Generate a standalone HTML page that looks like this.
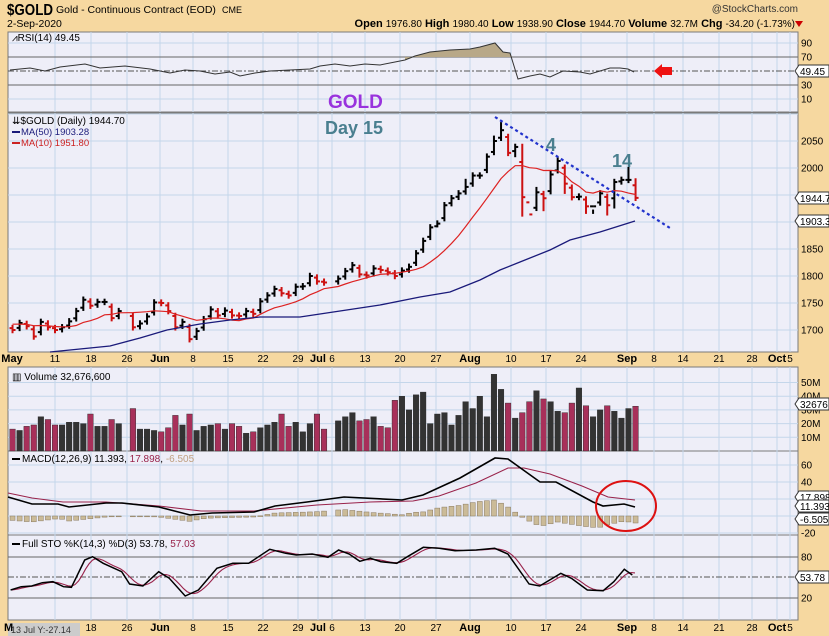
<!DOCTYPE html>
<html><head><meta charset="utf-8"><style>
html,body{margin:0;padding:0;background:#f6d8a0;}
svg{display:block;font-family:"Liberation Sans",sans-serif;}
</style></head><body>
<svg id="s" width="829" height="636" viewBox="0 0 829 636" xmlns="http://www.w3.org/2000/svg">
<rect x="0" y="0" width="829" height="636" fill="#f6d8a0"/>
<text x="7" y="15" font-size="16" font-weight="bold" fill="#000" textLength="46" lengthAdjust="spacingAndGlyphs">$GOLD</text>
<text x="56" y="13" font-size="10.5" fill="#000">Gold - Continuous Contract (EOD)</text>
<text x="222" y="13" font-size="9" fill="#000">CME</text>
<text x="798" y="12" font-size="10" fill="#333" text-anchor="end">@StockCharts.com</text>
<text x="7" y="27" font-size="10.5" fill="#000">2-Sep-2020</text>
<text x="795" y="27" font-size="11" fill="#000" text-anchor="end"><tspan font-weight="bold">Open</tspan> <tspan font-size="10">1976.80</tspan> <tspan font-weight="bold">High</tspan> <tspan font-size="10">1980.40</tspan> <tspan font-weight="bold">Low</tspan> <tspan font-size="10">1938.90</tspan> <tspan font-weight="bold">Close</tspan> <tspan font-size="10">1944.70</tspan> <tspan font-weight="bold">Volume</tspan> <tspan font-size="10">32.7M</tspan> <tspan font-weight="bold">Chg</tspan> <tspan font-size="10">-34.20 (-1.73%)</tspan></text>
<polygon points="795,21 803,21 799,27" fill="#cc0000"/>

<g id="panels"></g>
<g id="grid"></g>
<g id="data"></g>

<text x="12" y="41" font-size="10" fill="#000">⩘RSI(14) 49.45</text>
<text x="12" y="124" font-size="10" fill="#000">⇊$GOLD (Daily) 1944.70</text>
<line x1="12" y1="132" x2="20" y2="132" stroke="#1a1a7a" stroke-width="2"/>
<text x="21" y="135" font-size="9.5" fill="#1a1a7a">MA(50) 1903.28</text>
<line x1="12" y1="143" x2="20" y2="143" stroke="#cc2222" stroke-width="2"/>
<text x="21" y="146" font-size="9.5" fill="#cc2222">MA(10) 1951.80</text>
<text x="12" y="380" font-size="10" fill="#000">▥ Volume 32,676,600</text>
<line x1="12" y1="459" x2="20" y2="459" stroke="#000" stroke-width="2"/>
<text x="22" y="462" font-size="10" fill="#000">MACD(12,26,9) 11.393, <tspan fill="#99224a">17.898</tspan>, <tspan fill="#c0a080">-6.505</tspan></text>
<line x1="12" y1="544" x2="20" y2="544" stroke="#000" stroke-width="2"/>
<text x="22" y="547" font-size="10" fill="#000">Full STO %K(14,3) %D(3) 53.78, <tspan fill="#99224a">57.03</tspan></text>

<text x="328" y="108" font-size="19" font-weight="bold" fill="#9933dd">GOLD</text>
<text x="325" y="134" font-size="18" font-weight="bold" fill="#4a7f8f">Day 15</text>
<text x="546" y="151" font-size="18" font-weight="bold" fill="#4a7f8f">4</text>
<text x="612" y="167" font-size="18" font-weight="bold" fill="#4a7f8f">14</text>
<line x1="495" y1="117" x2="670" y2="228" stroke="#2233cc" stroke-width="2.2" stroke-dasharray="3,3"/>
<polygon points="654,71 662,64 662,67 672,67 672,75 662,75 662,78" fill="#ee1111"/>
<ellipse cx="626" cy="506" rx="30" ry="25" fill="none" stroke="#dd1111" stroke-width="2"/>

<rect x="8" y="623" width="72" height="13" fill="#cccccc"/>
<text x="11" y="633" font-size="9" fill="#333">13 Jul Y:-27.14</text>
<g id="labels"></g>
</svg>
<script>
var NS="http://www.w3.org/2000/svg";
function el(p,t,a,txt){var e=document.createElementNS(NS,t);for(var k in a)e.setAttribute(k,a[k]);if(txt!=null)e.textContent=txt;document.getElementById(p).appendChild(e);return e;}
var L=8,R=798;
var P=[[32,112],[113,352],[367,451],[451,535],[535,620]];
P.forEach(function(p){el("panels","rect",{x:L,y:p[0],width:R-L,height:p[1]-p[0],fill:"#eeeef8",stroke:"#7a7a7a","stroke-width":1});});
var dates=[[55,"11"],[91,"18"],[127,"26"],[160,"Jun",1],[193,"8"],[228,"15"],[263,"22"],[298,"29"],[318,"Jul",1],[332,"6"],[365,"13"],[400,"20"],[436,"27"],[470,"Aug",1],[511,"10"],[546,"17"],[581,"24"],[627,"Sep",1],[654,"8"],[683,"14"],[719,"21"],[752,"28"],[777,"Oct",1],[790,"5"]];
dates.forEach(function(d){P.forEach(function(p){el("grid","line",{x1:d[0],y1:p[0],x2:d[0],y2:p[1],stroke:"#c4d6ea","stroke-width":1});});});
[[12,"May",1]].concat(dates).forEach(function(d){
 [362,631].forEach(function(y,i){ if(i==1&&d[0]<80)return;
  el("labels","text",{x:d[0],y:y,"font-size":d[2]?11:10,"font-weight":d[2]?"bold":"normal","text-anchor":"middle",fill:"#000"},d[1]);});
});
el("labels","text",{x:4,y:631,"font-size":11,"font-weight":"bold",fill:"#000"},"M");
function hline(y,c,dash,w){el("grid","line",{x1:L,y1:y,x2:R,y2:y,stroke:c,"stroke-width":w||1,"stroke-dasharray":dash||""});}
function rlab(y,t){el("labels","text",{x:801,y:y+3.5,"font-size":10,fill:"#000"},t);}
[43,99].forEach(function(y){hline(y,"#c4d6ea");});hline(57,"#666");hline(85,"#666");hline(71,"#555","6,2,2,2");
[[43,"90"],[57,"70"],[85,"30"],[99,"10"]].forEach(function(a){rlab(a[0],a[1]);});
for(var p=1650;p<=2100;p+=50){var y=330-(p-1700)*0.54;if(y>113&&y<352){hline(y,"#c4d6ea");if(p>=1700&&p<=2050&&p!=1950&&p!=1900)rlab(y,String(p));}}
for(var v=10;v<=50;v+=10){var y=451-v*1.37;hline(y,"#c4d6ea");rlab(y,v+"M");}
[[60,465],[40,482],[20,499],[0,516],[-20,533]].forEach(function(a){hline(a[1],"#c4d6ea");if(a[0]!=20&&a[0]!=0)rlab(a[1],String(a[0]));});
hline(557,"#666");hline(598,"#666");hline(577,"#555","6,2,2,2");rlab(557,"80");rlab(598,"20");
var C=[1700,1713,1707,1688,1715,1705,1700,1705,1716,1735,1756,1745,1752,1752,1722,1735,1705,1712,1725,1751,1750,1735,1705,1715,1683,1698,1720,1738,1727,1736,1727,1726,1735,1730,1753,1764,1776,1768,1764,1780,1781,1800,1790,1788,1795,1809,1820,1803,1801,1814,1811,1807,1800,1810,1817,1842,1865,1890,1897,1931,1944,1953,1965,1986,1986,2021,2050,2070,2028,2039,1946,1914,1955,1944,1988,2013,1971,1946,1947,1929,1929,1953,1931,1974,1978,1978,1944.7];
var VOL=[16,15,18,19,25,23,19,19,21,21,20,27,18,18,23,20,31,16,16,15,14,17,26,19,27,15,18,19,20,16,20,18,13,14,17,19,21,27,18,21,14,20,27,16,22,25,28,22,23,25,18,17,37,40,30,41,43,20,27,28,19,26,36,31,40,25,56,45,35,24,28,36,44,38,36,29,28,35,46,33,25,30,33,29,24,31,32.7];
var X=[];var d=new Date(Date.UTC(2020,4,1));var base=Date.UTC(2020,4,11);
while(X.length<C.length){var dw=d.getUTCDay();var m=d.getUTCMonth(),dd=d.getUTCDate();
 if(dw>0&&dw<6&&!(m==4&&dd==25)&&!(m==6&&dd==3)){var days=(d.getTime()-base)/864e5;var wk=Math.floor(days/7);var dow=((days%7)+7)%7;X.push(55+wk*35.4+dow*7.08);}
 d=new Date(d.getTime()+864e5);}
function py(p){return 330-(p-1700)*0.54;}
var hiO={67:2085,66:2060,70:2045,71:1870,72:1965,74:1995,75:2020,83:1980,85:2002,86:1981,80:1915,62:1980};
var loO={70:1910,71:1870,69:2020,73:1920,75:1990,76:1952,79:1915,82:1912,83:1925,86:1938.9,58:1890};
for(var i=0;i<C.length;i++){
 var c=C[i],pc=i?C[i-1]:1705,o=pc+(c-pc)*0.3;
 var h=Math.max(o,c)+6,l=Math.min(o,c)-6;if(hiO[i])h=hiO[i];if(loO[i])l=loO[i];
 var col=c<pc?"#cc1111":"#000";var x=X[i];
 el("data","line",{x1:x,y1:py(h),x2:x,y2:py(l),stroke:col,"stroke-width":2});
 el("data","line",{x1:x-3,y1:py(o),x2:x,y2:py(o),stroke:col,"stroke-width":2});
 el("data","line",{x1:x,y1:py(c),x2:x+3,y2:py(c),stroke:col,"stroke-width":2});
 var v=VOL[i]||25;el("data","rect",{x:x-2.8,y:451-v*1.37,width:5.6,height:v*1.37,fill:c<pc?"#a8305a":"#333","stroke":"#222","stroke-width":0.4});
}
var pts=[];for(var i=0;i<C.length;i++){var s=0;for(var j=i-9;j<=i;j++)s+=(j<0?1712:C[j]);pts.push(X[i].toFixed(1)+","+py(s/10).toFixed(1));}
el("data","polyline",{points:pts.join(" "),fill:"none",stroke:"#dd2222","stroke-width":1.2});
el("data","polyline",{points:"50,352 80,349 110,346 140,338 167,330 200,324 230,320 260,317 300,317 340,311 380,305 420,297 450,292 480,280 500,270 520,262 550,250 570,240 600,232 635,221",fill:"none",stroke:"#1a1a7a","stroke-width":1.3});
var rs="10,70 30,68 45,71 60,67 85,64 100,68 125,66 150,69 170,73 185,70 200,71 215,74 230,72 240,76 255,73 270,71 290,70 310,69 320,66 335,64 350,66 365,64 380,65 395,62 405,60 415,56 430,52 450,50 470,49 480,47 495,43 503,52 510,53 518,79 530,76 540,74 550,77 563,71 580,72 590,74 600,71 610,68 620,68 628,69 634,72";
el("data","polygon",{points:"405,57 405,60 415,56 430,52 450,50 470,49 480,47 495,43 503,52 510,53 512,57",fill:"#b8a888"});
el("data","polyline",{points:rs,fill:"none",stroke:"#333","stroke-width":1});
function interp(a,x){for(var i=1;i<a.length;i++){if(x<=a[i][0]){var t=(x-a[i-1][0])/(a[i][0]-a[i-1][0]);return a[i-1][1]+t*(a[i][1]-a[i-1][1]);}}return a[a.length-1][1];}
var M=[[8,497],[32,504],[58,504],[69,507],[106,503],[122,503],[159,507],[190,515],[212,513],[254,512],[275,506],[307,502],[344,497],[402,500],[423,495],[460,478],[495,458],[508,459],[540,482],[556,482],[593,502],[603,506],[624,504],[635,507]];
var S=[[8,493],[32,498],[63,502],[106,502],[159,506],[201,511],[254,511],[317,505],[370,502],[413,501],[439,496],[476,483],[508,468],[524,468],[550,474],[582,486],[608,497],[635,500]];
for(var i=0;i<X.length;i++){var hv=interp(S,X[i])-interp(M,X[i]);var y0=516,y1=516-hv;
 el("data","rect",{x:X[i]-2.5,y:Math.min(y0,y1),width:5,height:Math.max(0.8,Math.abs(hv)),fill:"#cbbb98",stroke:"#8a7a60","stroke-width":0.5});}
el("data","polyline",{points:S.map(function(a){return a.join(",")}).join(" "),fill:"none",stroke:"#99224a","stroke-width":1.1});
el("data","polyline",{points:M.map(function(a){return a.join(",")}).join(" "),fill:"none",stroke:"#000","stroke-width":1.6});
var K=[[20,690],[40,680],[60,678],[80,668],[100,665],[120,680],[135,682],[160,600],[175,590],[195,610],[230,635],[245,672],[270,678],[300,635],[320,655],[350,708],[375,690],[410,625],[440,610],[470,610],[510,568],[540,580],[560,585],[590,582],[620,592],[640,570],[660,582],[680,604],[700,595],[720,605],[750,610],[770,590],[800,562],[830,565],[860,572],[900,570],[935,565],[960,582],[1000,672],[1020,678],[1060,640],[1080,655],[1110,690],[1140,692],[1160,665],[1180,628],[1195,645]].map(function(a){return [a[0]/1.89,360+a[1]/3];});
var D=[];
for(var x=12;x<=635;x+=3.5){var s=0,n=0;for(var k=-2;k<=2;k++){s+=interp(K,Math.max(10,x-5+k*3));n++;}D.push([x,s/n]);}
el("data","polyline",{points:D.map(function(a){return a[0].toFixed(1)+","+a[1].toFixed(1)}).join(" "),fill:"none",stroke:"#99224a","stroke-width":1.1});
el("data","polyline",{points:K.map(function(a){return a[0].toFixed(1)+","+a[1].toFixed(1)}).join(" "),fill:"none",stroke:"#000","stroke-width":1.5});
function box(y,t){el("labels","path",{d:"M799,"+(y-6)+" L829,"+(y-6)+" L829,"+(y+6)+" L799,"+(y+6)+" L795,"+y+" Z",fill:"#fff",stroke:"#333","stroke-width":1});el("labels","text",{x:800,y:y+4,"font-size":10,fill:"#000"},t);}
box(71,"49.45");box(198,"1944.7");box(221,"1903.3");box(404,"32676");box(497,"17.898");box(506,"11.393");box(519,"-6.505");box(577,"53.78");
</script>
</body></html>
